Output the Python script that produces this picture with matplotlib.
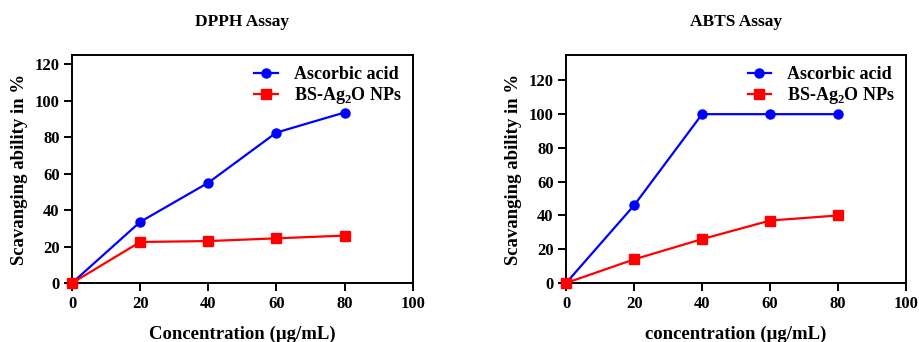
import numpy as np
import matplotlib
matplotlib.use('Agg')
import matplotlib.pyplot as plt
from matplotlib.ticker import MultipleLocator

plt.rcParams['font.family'] = ['Liberation Serif', 'DejaVu Serif']
plt.rcParams['font.weight'] = 'bold'
plt.rcParams['mathtext.fontset'] = 'custom'
plt.rcParams['mathtext.rm'] = 'Liberation Serif:bold'
plt.rcParams['mathtext.bf'] = 'Liberation Serif:bold'

# concentrations (µg/mL)
conc = [0, 20, 40, 60, 80]

# DPPH assay
dpph_ascorbic = [0, 33.5, 55, 82.5, 93.5]
dpph_np = [0, 22.5, 23, 24.5, 26]

# ABTS assay
abts_ascorbic = [0, 46, 100, 100, 100]
abts_np = [0, 14, 26, 37, 40]

labels = ['Ascorbic acid', r'BS-Ag$_\mathbf{2}$O NPs']

fig = plt.figure(figsize=(9.19, 3.42), dpi=100)
ax1 = fig.add_axes([0.0784, 0.1725, 0.3706, 0.6665])
ax2 = fig.add_axes([0.616, 0.1725, 0.370, 0.6665])


def draw_panel(ax, asc, np_vals, title, xlabel, ytop):
    ax.plot(conc, asc, color='blue', marker='o', markersize=6.5, lw=1.6,
            label=labels[0], clip_on=False, zorder=3)
    ax.plot(conc, np_vals, color='red', marker='s', markersize=6.5, lw=1.6,
            label=labels[1], clip_on=False, zorder=3)
    ax.set_xlim(0, 100)
    ax.set_ylim(0, ytop)
    ax.xaxis.set_major_locator(MultipleLocator(20))
    ax.yaxis.set_major_locator(MultipleLocator(20))
    ax.tick_params(axis='both', which='major', labelsize=12, width=1.4,
                   length=6, direction='out', pad=3)
    for lab in ax.get_xticklabels() + ax.get_yticklabels():
        lab.set_fontweight('bold')
    for sp in ax.spines.values():
        sp.set_linewidth(1.4)
    ax.set_xlabel(xlabel, fontsize=13.5, fontweight='bold', labelpad=10)
    ax.set_ylabel('Scavanging ability in %', fontsize=13.5, fontweight='bold',
                  labelpad=5)
    ax.text(0.5, 1.145, title, transform=ax.transAxes, ha='center',
            va='center', fontsize=12.5, fontweight='bold')
    leg = ax.legend(loc='upper right', frameon=False, fontsize=13,
                    handlelength=1.3, borderaxespad=0.2, labelspacing=0.12,
                    handletextpad=0.9)
    for t in leg.get_texts():
        t.set_fontweight('bold')


draw_panel(ax1, dpph_ascorbic, dpph_np, 'DPPH Assay',
           'Concentration (µg/mL)', 125)
draw_panel(ax2, abts_ascorbic, abts_np, 'ABTS Assay',
           'concentration (µg/mL)', 135)

fig.savefig('out.png', dpi=100)
